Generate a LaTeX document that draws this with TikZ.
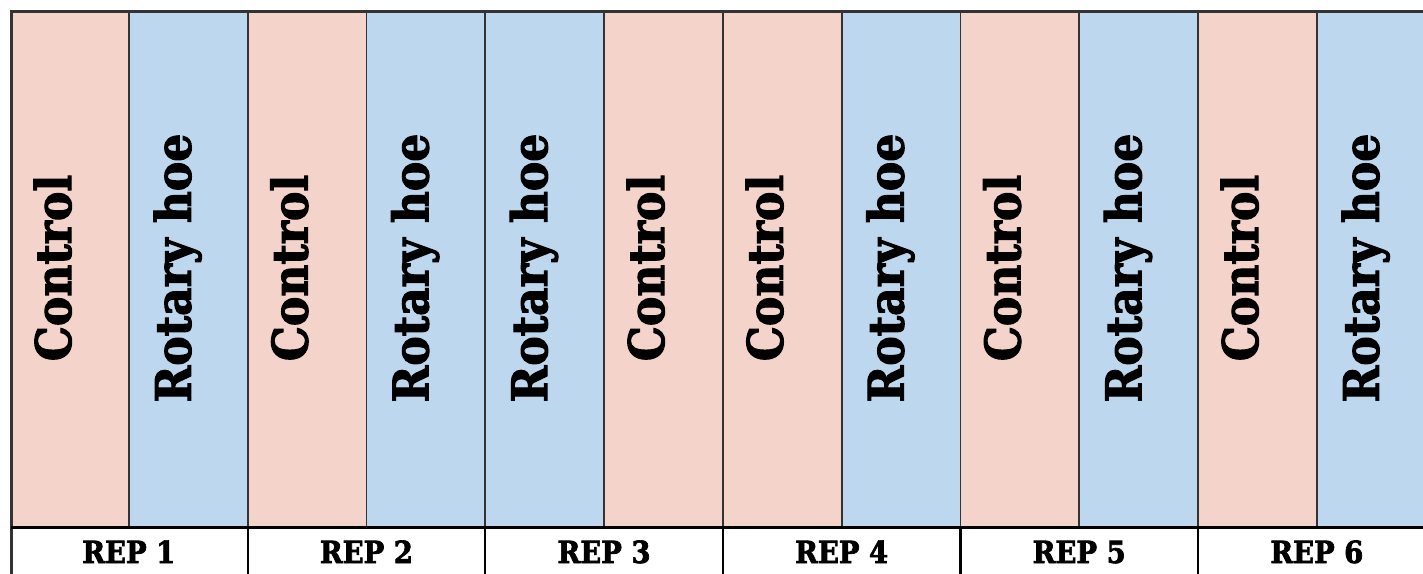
\documentclass[tikz,border=0pt]{standalone}
\usepackage{fontspec}
\newfontfamily\slab{DejaVu Serif Condensed Bold}[FakeBold=2.2]
\definecolor{ctrl}{HTML}{F4D3CA}
\definecolor{hoe}{HTML}{BDD7EE}
\definecolor{gridline}{HTML}{333333}
\tikzset{
  trt/.style={rotate=90, anchor=base, inner sep=0pt, font=\slab\fontsize{49}{49}\selectfont},
  replabel/.style={anchor=base, inner sep=0pt, font=\slab\fontsize{30.5}{30.5}\selectfont},
}
\begin{document}
\begin{tikzpicture}[x=1pt,y=-1pt]
\useasboundingbox (0,0) rectangle (1423,573);
\clip (0,0) rectangle (1423,573);
\fill[white] (0,0) rectangle (1423,573);
% treatments per column: 1 = control, 0 = rotary hoe
\foreach \k/\t [count=\i] in {0/1,1/0,2/1,3/0,4/0,5/1,6/1,7/0,8/1,9/0,10/1,11/0}{
  \pgfmathsetmacro{\xa}{\k==0 ? 11 : 10+118.8*\k}
  \pgfmathsetmacro{\xb}{10+118.8*(\k+1)}
  \ifnum\t=1
    \fill[ctrl] (\xa,11) rectangle (\xb,527.5);
    \node[trt] (t\i) at (\xa+60,268) {Control};
  \else
    \fill[hoe] (\xa,11) rectangle (\xb,527.5);
    \node[trt] (t\i) at (\xa+62,268) {Rotary hoe};
  \fi
}
% column lines
\foreach \k in {1,...,11}{
  \draw[gridline, line width=1.8pt] ({10+118.8*\k},11) -- ({10+118.8*\k},527.5);
}
% outer border
\draw[gridline, line width=3pt] (11,600) -- (11,11) -- (1440,11);
% label row separator
\draw[black, line width=3pt] (11,527.5) -- (1440,527.5);
% rep dividers and labels
\foreach \r in {1,...,6}{
  \pgfmathsetmacro{\xa}{10+237.6*(\r-1)}
  \pgfmathsetmacro{\xb}{10+237.6*\r}
  \draw[black, line width=2.2pt] (\xb,527.5) -- (\xb,600);
  \node[replabel] (rep\r) at ({(\xa+\xb)/2},563) {REP \r};
}
\end{tikzpicture}
\end{document}
